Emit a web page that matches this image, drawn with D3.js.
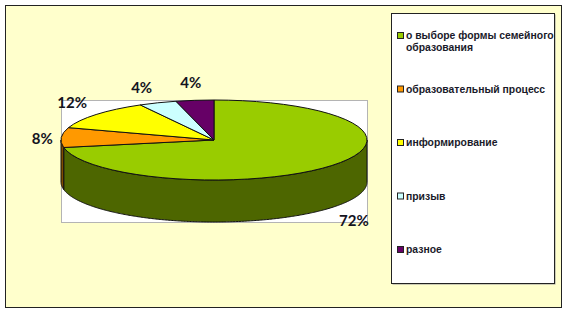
<!DOCTYPE html>
<html>
<head>
<meta charset="utf-8">
<script src="https://d3js.org/d3.v7.min.js"></script>
<style>
  html, body { margin: 0; padding: 0; background: #fff; }
  svg { display: block; }
  .pct { font-family: Lato, 'Open Sans', sans-serif; font-weight: 700; font-size: 15px; fill: #14141e; text-anchor: middle; }
  .leg { font-family: 'Liberation Sans', Arial, sans-serif; font-weight: 700; font-size: 10.4px; fill: #1a1a2a; }
</style>
</head>
<body>
<svg id="chart" width="568" height="316"></svg>
<script>
'use strict';

var categories = [["о выборе формы семейного", "образования"], ["образовательный процесс"], ["информирование"], ["призыв"], ["разное"]];
var values = [72, 8, 12, 4, 4];
var tickLabels = ["72%", "8%", "12%", "4%", "4%"];
var topColors = ["#99cc00", "#ff9900", "#ffff00", "#ccffff", "#660066"];
var sideColors = ["#4d6600", "#804d00", "#808000", "#668080", "#330033"];

var svg = d3.select("#chart");

// frame
svg.append("rect").attr("x", 5.5).attr("y", 5.5).attr("width", 556).attr("height", 302)
  .attr("fill", "#ffffcc").attr("stroke", "#222").attr("stroke-width", 1);

// plot area
svg.append("rect").attr("x", 61.5).attr("y", 100.5).attr("width", 306).attr("height", 122)
  .attr("fill", "#fff").attr("stroke", "#b4b4b4").attr("stroke-width", 1);

var cx = 214, cy = 140, rx = 153, ry = 40, depth = 42;

var slices = d3.pie().sort(null)(values);

var xs = d3.scaleLinear().domain([-1, 1]).range([cx - rx, cx + rx]);
var ys = d3.scaleLinear().domain([-1, 1]).range([cy - ry, cy + ry]);

function px(a) { return xs(Math.sin(a)); }
function py(a) { return ys(-Math.cos(a)); }

// walls: only the part of each slice facing the viewer
var g = svg.append("g");
var edge = 1;
slices.forEach(function(s, i) {
  var a0 = Math.max(s.startAngle, Math.PI / 2);
  var a1 = Math.min(s.endAngle, Math.PI * 1.5);
  if (a1 <= a0) return;
  var angles = d3.range(a0, a1, 0.01).concat([a1]);
  var top = angles.map(function(a) { return [px(a), py(a)]; });
  var bot = angles.slice().reverse().map(function(a) { return [px(a), py(a) + depth]; });
  g.append("path")
    .attr("d", d3.line()(top.concat(bot)) + "Z")
    .attr("fill", sideColors[i])
    .attr("stroke", "#111")
    .attr("stroke-width", edge);
});

// top faces, a circle arc squashed into an ellipse
var arc = d3.arc().innerRadius(0).outerRadius(rx);
g.append("g")
  .attr("transform", "translate(" + cx + "," + cy + ") scale(1," + (ry / rx) + ")")
  .selectAll("path")
  .data(slices)
  .enter()
  .append("path")
    .attr("d", arc)
    .attr("fill", function(d, i) { return topColors[i]; })
    .attr("stroke", "#111")
    .attr("stroke-width", edge)
    .attr("vector-effect", "non-scaling-stroke")
    .attr("stroke-linejoin", "round");

// percent labels sit off the rim of the mid angle
var labelShift = [[22, 56], [-19, 2], [-24, -12], [-16, -15], [-4, -17]];
svg.selectAll("text.pct")
  .data(slices)
  .enter()
  .append("text")
    .attr("class", "pct")
    .attr("x", function(d, i) { return px((d.startAngle + d.endAngle) / 2) + labelShift[i][0]; })
    .attr("y", function(d, i) { return py((d.startAngle + d.endAngle) / 2) + labelShift[i][1] + 5; })
    .text(function(d, i) { return tickLabels[i]; });

// legend
svg.append("rect").attr("x", 392.5).attr("y", 14.5).attr("width", 163).attr("height", 270).attr("fill", "#999");
svg.append("rect").attr("x", 391.5).attr("y", 13.5).attr("width", 163).attr("height", 270)
  .attr("fill", "#fff").attr("stroke", "#222").attr("stroke-width", 1);

var legendY = d3.scalePoint().domain(d3.range(categories.length)).range([35, 249]);
var legend = svg.selectAll("g.item")
  .data(categories)
  .enter()
  .append("g")
    .attr("class", "item")
    .attr("transform", function(d, i) { return "translate(397," + legendY(i) + ")"; });

legend.append("rect")
  .attr("x", 0.5).attr("y", -2.5).attr("width", 6).attr("height", 6)
  .attr("fill", function(d, i) { return topColors[i]; })
  .attr("stroke", "#222").attr("stroke-width", 1);

legend.append("text")
  .attr("class", "leg")
  .attr("x", 9)
  .attr("y", 4)
  .selectAll("tspan")
  .data(function(d) { return d; })
  .enter()
  .append("tspan")
    .attr("x", 9)
    .attr("dy", function(d, i) { return i ? 12 : 0; })
    .text(function(d) { return d; });
</script>
</body>
</html>
